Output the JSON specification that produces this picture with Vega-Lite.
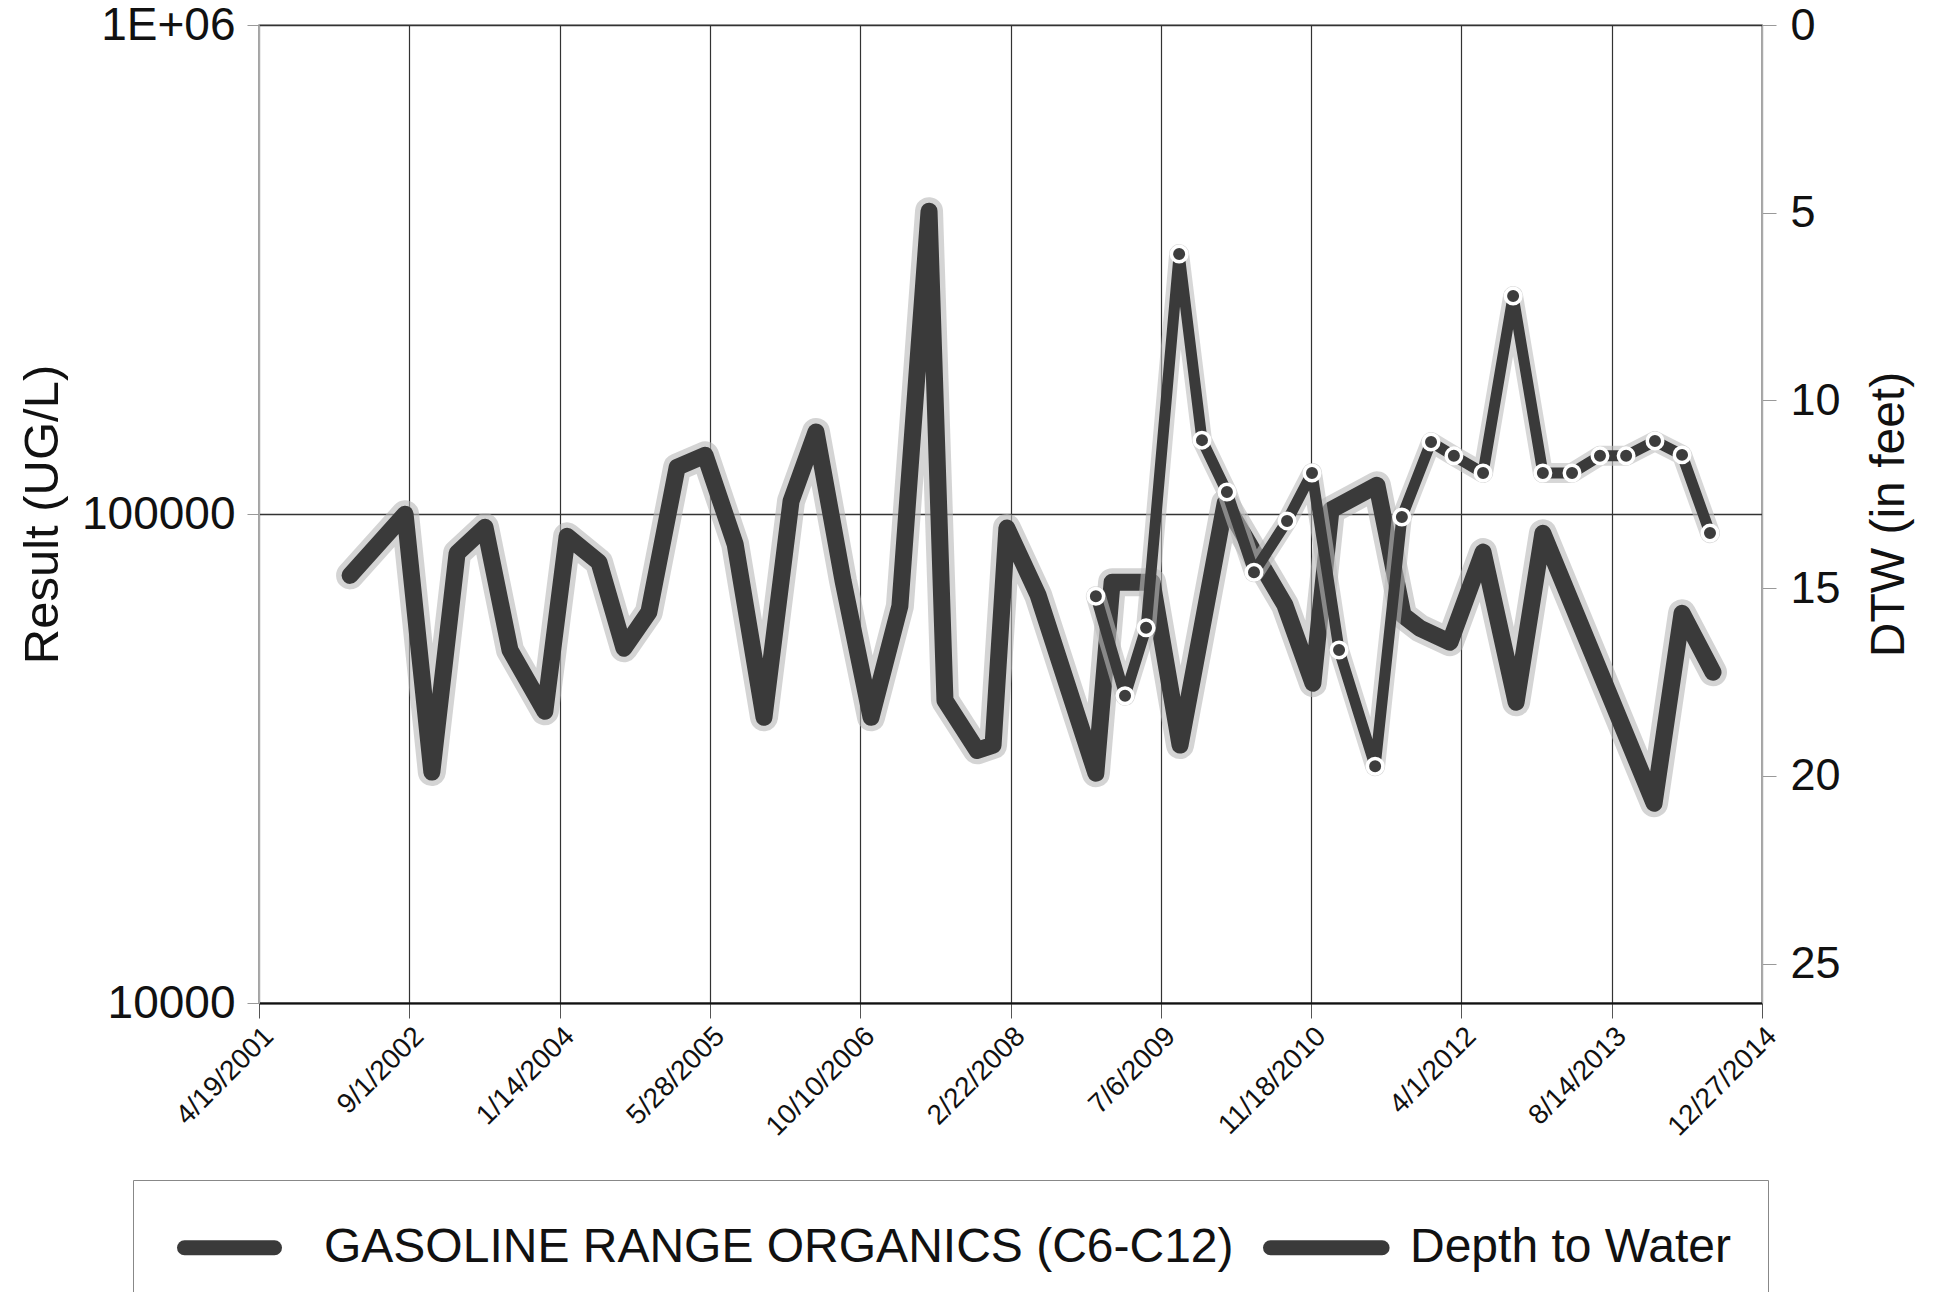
{
  "$schema": "https://vega.github.io/schema/vega-lite/v6.json",
  "width": 1503,
  "height": 978,
  "autosize": {"type": "none"},
  "padding": {"left": 259, "top": 25, "right": 176, "bottom": 289},
  "background": "white",
  "config": {
    "font": "Liberation Sans",
    "view": {"stroke": "#999", "strokeWidth": 1.5}
  },
  "datasets": {
    "dtw": [
      {"date": "2002-02-16", "dtw": 14.66},
      {"date": "2002-08-18", "dtw": 13.03},
      {"date": "2002-11-15", "dtw": 19.90},
      {"date": "2003-02-07", "dtw": 14.07},
      {"date": "2003-05-11", "dtw": 13.38},
      {"date": "2003-08-02", "dtw": 16.65},
      {"date": "2003-11-26", "dtw": 18.28},
      {"date": "2004-02-08", "dtw": 13.62},
      {"date": "2004-05-24", "dtw": 14.31},
      {"date": "2004-08-15", "dtw": 16.60},
      {"date": "2004-11-06", "dtw": 15.64},
      {"date": "2005-02-08", "dtw": 11.78},
      {"date": "2005-05-12", "dtw": 11.46},
      {"date": "2005-08-20", "dtw": 13.83},
      {"date": "2005-11-24", "dtw": 18.44},
      {"date": "2006-02-22", "dtw": 12.68},
      {"date": "2006-05-16", "dtw": 10.84},
      {"date": "2006-08-14", "dtw": 14.81},
      {"date": "2006-11-15", "dtw": 18.44},
      {"date": "2007-02-19", "dtw": 15.48},
      {"date": "2007-05-27", "dtw": 4.96},
      {"date": "2007-07-19", "dtw": 17.99},
      {"date": "2007-11-03", "dtw": 19.32},
      {"date": "2007-12-26", "dtw": 19.18},
      {"date": "2008-02-10", "dtw": 13.40},
      {"date": "2008-05-24", "dtw": 15.19},
      {"date": "2008-12-02", "dtw": 19.93},
      {"date": "2009-01-25", "dtw": 14.84},
      {"date": "2009-06-07", "dtw": 14.84},
      {"date": "2009-09-08", "dtw": 19.18},
      {"date": "2010-02-05", "dtw": 12.74},
      {"date": "2010-08-23", "dtw": 15.45},
      {"date": "2010-11-24", "dtw": 17.53},
      {"date": "2011-01-23", "dtw": 12.92},
      {"date": "2011-06-25", "dtw": 12.26},
      {"date": "2011-09-20", "dtw": 15.72},
      {"date": "2011-11-15", "dtw": 16.07},
      {"date": "2012-02-23", "dtw": 16.44},
      {"date": "2012-06-12", "dtw": 14.04},
      {"date": "2012-09-30", "dtw": 18.04},
      {"date": "2012-12-28", "dtw": 13.54},
      {"date": "2014-01-02", "dtw": 20.73},
      {"date": "2014-04-05", "dtw": 15.67},
      {"date": "2014-07-17", "dtw": 17.24}
    ],
    "gro": [
      {"date": "2008-12-02", "gro": 67900},
      {"date": "2009-03-09", "gro": 42500},
      {"date": "2009-05-18", "gro": 58500},
      {"date": "2009-09-05", "gro": 340000},
      {"date": "2009-11-20", "gro": 141600},
      {"date": "2010-02-11", "gro": 110900},
      {"date": "2010-05-12", "gro": 76000},
      {"date": "2010-08-30", "gro": 96800},
      {"date": "2010-11-21", "gro": 121300},
      {"date": "2011-02-19", "gro": 52700},
      {"date": "2011-06-19", "gro": 30500},
      {"date": "2011-09-16", "gro": 98600},
      {"date": "2011-12-22", "gro": 140300},
      {"date": "2012-03-07", "gro": 131500},
      {"date": "2012-06-12", "gro": 121300},
      {"date": "2012-09-20", "gro": 279000},
      {"date": "2012-12-28", "gro": 121300},
      {"date": "2013-04-04", "gro": 121300},
      {"date": "2013-07-06", "gro": 131500},
      {"date": "2013-10-01", "gro": 131500},
      {"date": "2014-01-05", "gro": 141000},
      {"date": "2014-04-05", "gro": 132100},
      {"date": "2014-07-07", "gro": 91400}
    ]
  },
  "encoding": {
    "x": {
      "field": "date",
      "type": "temporal",
      "scale": {
        "type": "utc",
        "domain": [
          {"year": 2001, "month": 4, "date": 19, "utc": true},
          {"year": 2014, "month": 12, "date": 27, "utc": true}
        ],
        "nice": false
      },
      "axis": {
        "title": null,
        "values": [
          {"year": 2001, "month": 4, "date": 19, "utc": true},
          {"year": 2002, "month": 9, "date": 1, "utc": true},
          {"year": 2004, "month": 1, "date": 14, "utc": true},
          {"year": 2005, "month": 5, "date": 28, "utc": true},
          {"year": 2006, "month": 10, "date": 10, "utc": true},
          {"year": 2008, "month": 2, "date": 22, "utc": true},
          {"year": 2009, "month": 7, "date": 6, "utc": true},
          {"year": 2010, "month": 11, "date": 18, "utc": true},
          {"year": 2012, "month": 4, "date": 1, "utc": true},
          {"year": 2013, "month": 8, "date": 14, "utc": true},
          {"year": 2014, "month": 12, "date": 27, "utc": true}
        ],
        "format": "%-m/%-d/%Y",
        "labelAngle": -45,
        "labelFontSize": 28,
        "labelColor": "#111",
        "labelPadding": 4,
        "labelOverlap": false,
        "labelFlush": false,
        "labelBound": false,
        "grid": true,
        "gridColor": "#333",
        "gridWidth": 1.2,
        "tickSize": 15,
        "tickColor": "#555",
        "domainColor": "#111",
        "domainWidth": 2
      }
    }
  },
  "resolve": {"scale": {"y": "independent"}},
  "layer": [
    {
      "data": {"name": "dtw"},
      "encoding": {
        "y": {
          "field": "dtw",
          "type": "quantitative",
          "scale": {"domain": [0, 26.05], "reverse": true, "nice": false, "zero": false},
          "axis": {
            "orient": "right",
            "title": "DTW (in feet)",
            "titleFontSize": 48,
            "titleFontWeight": "normal",
            "titleColor": "#111",
            "titleAngle": 270,
            "titlePadding": 73,
            "values": [0, 5, 10, 15, 20, 25],
            "labelFontSize": 45,
            "labelColor": "#111",
            "labelPadding": 14,
            "tickSize": 14,
            "tickColor": "#999",
            "domainColor": "#aaa",
            "grid": false
          }
        }
      },
      "layer": [
        {
          "mark": {"type": "line", "strokeWidth": 28, "color": "#b8b8b8", "opacity": 0.6, "strokeJoin": "round", "strokeCap": "round"}
        },
        {
          "mark": {"type": "line", "strokeWidth": 17, "strokeJoin": "round", "strokeCap": "round"},
          "encoding": {
            "color": {
              "datum": "Depth to Water",
              "scale": {
                "domain": ["GASOLINE RANGE ORGANICS (C6-C12)", "Depth to Water"],
                "range": ["#3a3a3a", "#3a3a3a"]
              },
              "legend": {
                "title": null,
                "orient": "none",
                "legendX": -126,
                "legendY": 1155,
                "direction": "horizontal",
                "symbolType": "M-1,0H2.75",
                "symbolStrokeWidth": 15,
                "symbolSize": 2304,
                "symbolOffset": 8,
                "labelFontSize": 48,
                "labelFont": "Liberation Sans",
                "labelColor": "#111",
                "labelLimit": 2000,
                "labelOffset": 84,
                "columnPadding": 6,
                "padding": 36,
                "strokeColor": "#888",
                "fillColor": "white",
                "encode": {
                  "symbols": {
                    "update": {
                      "shape": {"signal": "datum.value === 'Depth to Water' ? 'M-1,0H3.65' : 'M-1,0H2.75'"},
                      "strokeCap": {"value": "round"}
                    }
                  }
                }
              }
            }
          }
        }
      ]
    },
    {
      "data": {"name": "gro"},
      "encoding": {
        "y": {
          "field": "gro",
          "type": "quantitative",
          "scale": {"type": "log", "domain": [10000, 1000000], "nice": false},
          "axis": {
            "orient": "left",
            "title": "Result (UG/L)",
            "titleFontSize": 49,
            "titleFontWeight": "normal",
            "titleColor": "#111",
            "titlePadding": 14,
            "values": [10000, 100000, 1000000],
            "labelExpr": "datum.value >= 1000000 ? '1E+06' : format(datum.value, 'd')",
            "labelFontSize": 46,
            "labelColor": "#111",
            "labelPadding": 12,
            "tickSize": 12,
            "tickColor": "#999",
            "domainColor": "#aaa",
            "grid": true,
            "gridColor": "#333",
            "gridWidth": 1.5
          }
        }
      },
      "layer": [
        {
          "mark": {"type": "line", "strokeWidth": 20, "color": "#bdbdbd", "opacity": 0.6, "strokeJoin": "round", "strokeCap": "round"}
        },
        {
          "mark": {"type": "line", "strokeWidth": 11, "strokeJoin": "round", "strokeCap": "round"},
          "encoding": {
            "color": {"datum": "GASOLINE RANGE ORGANICS (C6-C12)"}
          }
        },
        {
          "mark": {"type": "point", "filled": true, "fill": "#3d3d3d", "stroke": "white", "strokeWidth": 3.5, "size": 240, "opacity": 1}
        }
      ]
    }
  ]
}
